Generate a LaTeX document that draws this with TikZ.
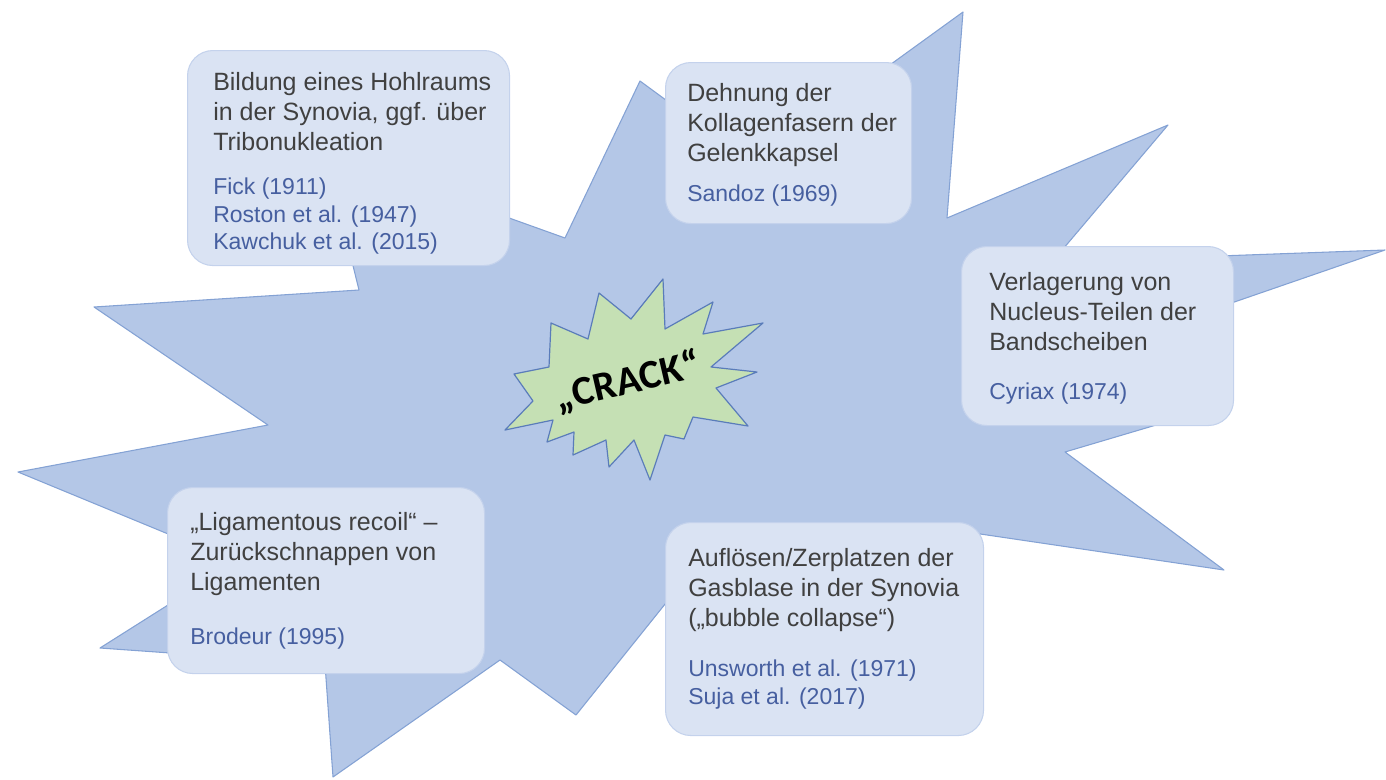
\documentclass[tikz,border=0pt]{standalone}
\usepackage{fontspec}
\setmainfont{Liberation Sans}
\newfontfamily\crackfont{Carlito}
\usepackage{tkz-euclide}

\definecolor{starblue}{RGB}{180,199,231}
\definecolor{staredge}{RGB}{132,162,212}
\definecolor{crackgreen}{RGB}{197,224,180}
\definecolor{crackedge}{RGB}{90,124,186}
\definecolor{boxfill}{RGB}{218,227,243}
\definecolor{boxedge}{RGB}{196,210,236}
\definecolor{textgrey}{RGB}{64,64,64}
\definecolor{refblue}{RGB}{70,95,160}

\tikzset{
  infobox/.style={draw=boxedge, fill=boxfill, rounded corners=19pt, line width=0.8pt,
    inner sep=0pt, anchor=north west},
  maintext/.style={anchor=north west, inner sep=0pt, align=left, text=textgrey,
    font=\fontsize{18.75}{22.5}\selectfont},
  reftext/.style={anchor=north west, inner sep=0pt, align=left, text=refblue,
    font=\fontsize{17.25}{20.6}\selectfont},
}

\begin{document}
\begin{tikzpicture}[x=0.75pt,y=-0.75pt]
                \useasboundingbox (0,0) rectangle (1386,779);

                % big star
                \tkzDefPoint(963,12){S1}
                \tkzDefPoint(947,218){S2}
                \tkzDefPoint(1168,125){S3}
                \tkzDefPoint(1052,262){S4}
                \tkzDefPoint(1385,250){S5}
                \tkzDefPoint(1188,318){S6}
                \tkzDefPoint(1200,412){S7}
                \tkzDefPoint(1065,452){S8}
                \tkzDefPoint(1224,570){S9}
                \tkzDefPoint(960,531){S10}
                \tkzDefPoint(690,573){S11}
                \tkzDefPoint(576,715){S12}
                \tkzDefPoint(500,660){S13}
                \tkzDefPoint(333,777){S14}
                \tkzDefPoint(325,664){S15}
                \tkzDefPoint(100,648){S16}
                \tkzDefPoint(236,562){S17}
                \tkzDefPoint(18,472){S18}
                \tkzDefPoint(268,425){S19}
                \tkzDefPoint(94,307){S20}
                \tkzDefPoint(359,290){S21}
                \tkzDefPoint(325,152){S22}
                \tkzDefPoint(565,238){S23}
                \tkzDefPoint(640,81){S24}
                \tkzDefPoint(753,164){S25}

                \tkzDrawPolygon[fill=starblue,draw=staredge,line width=0.8pt](S1,S2,S3,S4,S5,S6,S7,S8,S9,S10,S11,S12,S13,S14,S15,S16,S17,S18,S19,S20,S21,S22,S23,S24,S25)

                % small star
                \tkzDefPoint(663,279){G1}
                \tkzDefPoint(665,329){G2}
                \tkzDefPoint(713,302){G3}
                \tkzDefPoint(703,334){G4}
                \tkzDefPoint(763,323){G5}
                \tkzDefPoint(711,367){G6}
                \tkzDefPoint(757,372){G7}
                \tkzDefPoint(716,388){G8}
                \tkzDefPoint(748,426){G9}
                \tkzDefPoint(693,417){G10}
                \tkzDefPoint(684,439){G11}
                \tkzDefPoint(665,435){G12}
                \tkzDefPoint(650,480){G13}
                \tkzDefPoint(634,440){G14}
                \tkzDefPoint(609,467){G15}
                \tkzDefPoint(606,440){G16}
                \tkzDefPoint(573,455){G17}
                \tkzDefPoint(574,432){G18}
                \tkzDefPoint(547,442){G19}
                \tkzDefPoint(553,420){G20}
                \tkzDefPoint(505,430){G21}
                \tkzDefPoint(533,401){G22}
                \tkzDefPoint(514,374){G23}
                \tkzDefPoint(549,367){G24}
                \tkzDefPoint(551,323){G25}
                \tkzDefPoint(588,339){G26}
                \tkzDefPoint(599,293){G27}
                \tkzDefPoint(631,319){G28}

                \tkzDrawPolygon[fill=crackgreen,draw=crackedge,line width=0.9pt](G1,G2,G3,G4,G5,G6,G7,G8,G9,G10,G11,G12,G13,G14,G15,G16,G17,G18,G19,G20,G21,G22,G23,G24,G25,G26,G27,G28)

                \node[rotate=13, font=\crackfont\bfseries\fontsize{30.5}{32}\selectfont] (crack) at (628,382) {„CRACK“};

                % boxes
                \node[infobox, minimum width=241.5pt, minimum height=161.25pt] (hohlraum) at (187,50) {};
                \node[infobox, minimum width=184.5pt, minimum height=120.75pt] (dehnung) at (665,62) {};
                \node[infobox, minimum width=204pt, minimum height=134.25pt] (nucleus) at (961,246) {};
                \node[infobox, minimum width=237.75pt, minimum height=139.5pt] (recoil) at (167,487) {};
                \node[infobox, minimum width=238.5pt, minimum height=159.75pt] (collapse) at (665,522) {};

                \node[maintext] (hohlraumtxt) at (213,72) {Bildung eines Hohlraums\\in der Synovia, ggf. über\\Tribonukleation};
                \node[reftext] (hohlraumref) at (213,178) {Fick (1911)\\Roston et al. (1947)\\Kawchuk et al. (2015)};

                \node[maintext] (dehnungtxt) at (687,83) {Dehnung der\\Kollagenfasern der\\Gelenkkapsel};
                \node[reftext] (dehnungref) at (687,185) {Sandoz (1969)};

                \node[maintext] (nucleustxt) at (989,272) {Verlagerung von\\Nucleus-Teilen der\\Bandscheiben};
                \node[reftext] (nucleusref) at (989,383) {Cyriax (1974)};

                \node[maintext] (recoiltxt) at (190,512) {„Ligamentous recoil“ –\\Zurückschnappen von\\Ligamenten};
                \node[reftext] (recoilref) at (190,628) {Brodeur (1995)};

                \node[maintext] (collapsetxt) at (688,548) {Auflösen/Zerplatzen der\\Gasblase in der Synovia\\(„bubble collapse“)};
                \node[reftext] (collapseref) at (688,660) {Unsworth et al. (1971)\\Suja et al. (2017)};

            \end{tikzpicture}
\end{document}
